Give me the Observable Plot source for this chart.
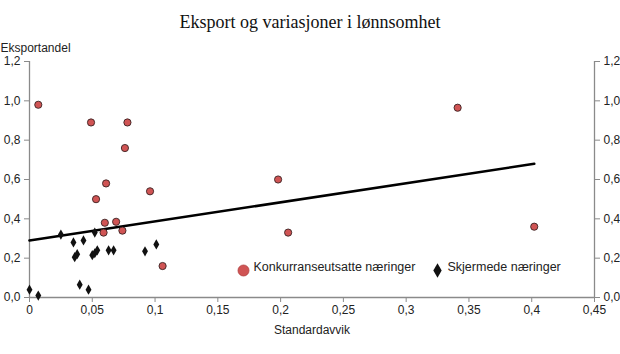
<!DOCTYPE html>
<html>
<head>
<meta charset="utf-8">
<script src="https://cdn.jsdelivr.net/npm/d3@7"></script>
<script src="https://cdn.jsdelivr.net/npm/@observablehq/plot@0.6"></script>
<style>
  html, body { margin: 0; padding: 0; background: #fff; }
  #wrap { width: 620px; height: 354px; position: relative; overflow: hidden; }
  #title { font-family: "Liberation Serif", "Times New Roman", serif; font-size: 18px; color: #111;
           text-align: center; height: 24px; line-height: 24px; padding-top: 10px; }
  svg { display: block; }
</style>
</head>
<body>
<div id="wrap">
  <div id="title">Eksport og variasjoner i lønnsomhet</div>
  <div id="chart"></div>
</div>
<script>
// Konkurranseutsatte næringer (red circles)
const konkX = [0.007, 0.049, 0.078, 0.076, 0.061, 0.096, 0.053, 0.060, 0.069, 0.059, 0.074, 0.106, 0.198, 0.206, 0.341, 0.402];
const konkY = [0.98, 0.89, 0.89, 0.76, 0.58, 0.54, 0.50, 0.38, 0.385, 0.33, 0.34, 0.16, 0.60, 0.33, 0.965, 0.36];
// Skjermede næringer (black diamonds)
const skjX = [0.025, 0.035, 0.043, 0.036, 0.038, 0.050, 0.052, 0.054, 0.052, 0.063, 0.067, 0.092, 0.101, 0.040, 0.047, 0.000, 0.007];
const skjY = [0.32, 0.28, 0.29, 0.205, 0.22, 0.215, 0.225, 0.24, 0.33, 0.24, 0.24, 0.235, 0.27, 0.065, 0.04, 0.04, 0.01];
// Trend line
const trendX = [0, 0.402];
const trendY = [0.29, 0.68];
// Ticks
const xTicks = [0, 0.05, 0.1, 0.15, 0.2, 0.25, 0.3, 0.35, 0.4, 0.45];
const yTicks = [0, 0.2, 0.4, 0.6, 0.8, 1.0, 1.2];
const seriesNames = ["Konkurranseutsatte næringer", "Skjermede næringer"];
const xLabel = "Standardavvik";
const yLabel = "Eksportandel";

const konk = konkX.map((x, i) => ({x, y: konkY[i]}));
const skj = skjX.map((x, i) => ({x, y: skjY[i]}));
const trend = trendX.map((x, i) => ({x, y: trendY[i]}));

const fmtX = v => String(+v.toFixed(2)).replace(".", ",");
const fmtY = v => v.toFixed(1).replace(".", ",");
const axisColor = "#8a8a8a";
const red = "#d05454";

const plot = Plot.plot({
  width: 620,
  height: 320,
  marginLeft: 29,
  marginRight: 26,
  marginTop: 27,
  marginBottom: 57,
  style: { fontFamily: "'Liberation Sans', Arial, sans-serif", fontSize: "12px", color: "#222", background: "#fff" },
  x: { domain: [0, 0.45] },
  y: { domain: [0, 1.2] },
  marks: [
    Plot.axisX({ ticks: xTicks, tickFormat: fmtX, tickSize: 5, tickPadding: 3, stroke: axisColor, label: null, fontSize: 12 }),
    Plot.axisY({ anchor: "left", ticks: yTicks, tickFormat: fmtY, tickSize: 5, tickPadding: 4, stroke: axisColor, label: null, fontSize: 12 }),
    Plot.axisY({ anchor: "right", ticks: yTicks, tickFormat: fmtY, tickSize: 5, tickPadding: 4, stroke: axisColor, label: null, fontSize: 12 }),
    Plot.ruleX([0, 0.45], { stroke: axisColor, strokeWidth: 1.3 }),
    Plot.ruleY([0], { stroke: axisColor, strokeWidth: 1.3 }),
    Plot.line(trend, { x: "x", y: "y", stroke: "#000", strokeWidth: 2.6 }),
    Plot.dot(skj, { x: "x", y: "y", symbol: "diamond", r: 3.1, fill: "#111", stroke: "none" }),
    Plot.dot(konk, { x: "x", y: "y", r: 3.6, fill: red, stroke: "#3a2222", strokeWidth: 0.9 }),
    // axis titles
    Plot.text([xLabel], { frameAnchor: "bottom", dy: 36, fontSize: 12, fill: "#222" }),
    Plot.text([yLabel], { frameAnchor: "top-left", textAnchor: "start", dx: -29, dy: -18, fontSize: 12, fill: "#222" }),
    // legend
    Plot.dot([seriesNames[0]], { frameAnchor: "bottom-left", dx: 214, dy: -27, r: 5.5, fill: red, stroke: "#b04040", strokeWidth: 0.8 }),
    Plot.text([seriesNames[0]], { frameAnchor: "bottom-left", dx: 224, dy: -27, textAnchor: "start", fontSize: 12.5, fill: "#222" }),
    Plot.dot([seriesNames[1]], { frameAnchor: "bottom-left", dx: 408, dy: -27, symbol: "diamond", r: 4.4, fill: "#111" }),
    Plot.text([seriesNames[1]], { frameAnchor: "bottom-left", dx: 418, dy: -27, textAnchor: "start", fontSize: 12.5, fill: "#222" })
  ]
});
document.getElementById("chart").appendChild(plot);
</script>
</body>
</html>
